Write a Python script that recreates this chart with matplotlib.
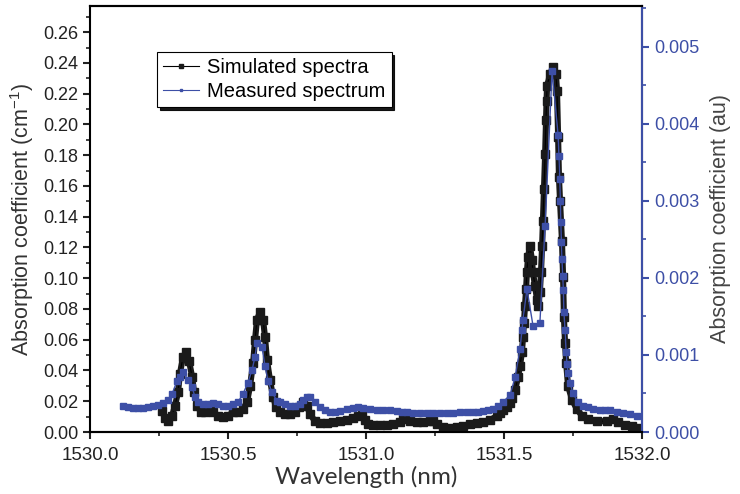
import numpy as np
import matplotlib
matplotlib.use("Agg")
import matplotlib.pyplot as plt
from matplotlib.ticker import MultipleLocator, FormatStrFormatter

plt.rcParams['font.family'] = ['Liberation Sans', 'DejaVu Sans']
plt.rcParams['mathtext.fontset'] = 'custom'
plt.rcParams['mathtext.rm'] = 'Liberation Sans'
plt.rcParams['mathtext.it'] = 'Liberation Sans'

BLUE = '#3d4fa6'

# simulated spectrum (left axis, cm^-1)
sim_wl = [1530.261, 1530.272, 1530.283, 1530.297, 1530.308, 1530.319, 1530.326, 1530.337,
          1530.348, 1530.359, 1530.370, 1530.377, 1530.388, 1530.402, 1530.417, 1530.435,
          1530.446, 1530.464, 1530.482, 1530.500, 1530.518, 1530.536, 1530.554, 1530.569,
          1530.580, 1530.591, 1530.598, 1530.605, 1530.616, 1530.627, 1530.634, 1530.641,
          1530.652, 1530.663, 1530.674, 1530.688, 1530.707, 1530.725, 1530.743, 1530.757,
          1530.772, 1530.786, 1530.797, 1530.815, 1530.833, 1530.859, 1530.880, 1530.906,
          1530.931, 1530.953, 1530.971, 1530.986, 1530.996, 1531.007, 1531.025, 1531.051,
          1531.076, 1531.098, 1531.123, 1531.134, 1531.145, 1531.159, 1531.185, 1531.207,
          1531.232, 1531.243, 1531.257, 1531.279, 1531.304, 1531.330, 1531.351, 1531.377,
          1531.402, 1531.424, 1531.449, 1531.475, 1531.486, 1531.496, 1531.511, 1531.522,
          1531.529, 1531.540, 1531.551, 1531.558, 1531.565, 1531.569, 1531.572, 1531.576,
          1531.580, 1531.583, 1531.587, 1531.594, 1531.601, 1531.605, 1531.612, 1531.620,
          1531.623, 1531.630, 1531.634, 1531.638, 1531.641, 1531.645, 1531.649, 1531.652,
          1531.654, 1531.656, 1531.667, 1531.678, 1531.688, 1531.692, 1531.696, 1531.699,
          1531.703, 1531.710, 1531.714, 1531.717, 1531.721, 1531.725, 1531.732, 1531.746,
          1531.764, 1531.783, 1531.804, 1531.837, 1531.873, 1531.895, 1531.913, 1531.938,
          1531.964, 1531.986, 1532.000]
sim_val = [0.0136, 0.0090, 0.0070, 0.0104, 0.0170, 0.0260, 0.0380, 0.0490,
           0.0520, 0.0460, 0.0360, 0.0260, 0.0170, 0.0130, 0.0130, 0.0136,
           0.0130, 0.0104, 0.0097, 0.0104, 0.0130, 0.0130, 0.0149, 0.0195,
           0.0300, 0.0450, 0.0600, 0.0730, 0.0780, 0.0730, 0.0620, 0.0470,
           0.0340, 0.0230, 0.0160, 0.0130, 0.0117, 0.0117, 0.0130, 0.0160,
           0.0195, 0.0170, 0.0117, 0.0070, 0.0058, 0.0058, 0.0065, 0.0070,
           0.0078, 0.0090, 0.0104, 0.0110, 0.0075, 0.0055, 0.0045, 0.0045,
           0.0045, 0.0052, 0.0065, 0.0084, 0.0097, 0.0070, 0.0065, 0.0065,
           0.0070, 0.0070, 0.0052, 0.0032, 0.0026, 0.0032, 0.0039, 0.0052,
           0.0058, 0.0065, 0.0078, 0.0104, 0.0125, 0.0140, 0.0160, 0.0190,
           0.0220, 0.0270, 0.0360, 0.0430, 0.0520, 0.0620, 0.0710, 0.0820,
           0.0930, 0.1040, 0.1140, 0.1210, 0.1120, 0.1040, 0.0950, 0.0860,
           0.0820, 0.0910, 0.1040, 0.1210, 0.1370, 0.1580, 0.1810, 0.2030,
           0.2150, 0.2250, 0.2330, 0.2370, 0.2330, 0.2220, 0.1920, 0.1660,
           0.1500, 0.1240, 0.1010, 0.0750, 0.0580, 0.0450, 0.0300, 0.0210,
           0.0149, 0.0104, 0.0084, 0.0070, 0.0070, 0.0084, 0.0065, 0.0045,
           0.0039, 0.0026, 0.0020]

# measured spectrum (right axis, au)
meas_wl = [1530.120, 1530.138, 1530.156, 1530.174, 1530.192, 1530.210, 1530.228, 1530.246,
           1530.264, 1530.283, 1530.297, 1530.315, 1530.326, 1530.337, 1530.355, 1530.370,
           1530.380, 1530.391, 1530.409, 1530.428, 1530.446, 1530.464, 1530.482, 1530.500,
           1530.518, 1530.536, 1530.554, 1530.572, 1530.587, 1530.598, 1530.605, 1530.623,
           1530.634, 1530.645, 1530.659, 1530.678, 1530.688, 1530.707, 1530.725, 1530.743,
           1530.761, 1530.772, 1530.786, 1530.797, 1530.815, 1530.833, 1530.851, 1530.870,
           1530.888, 1530.906, 1530.931, 1530.953, 1530.971, 1530.989, 1531.014, 1531.040,
           1531.062, 1531.087, 1531.112, 1531.130, 1531.149, 1531.170, 1531.196, 1531.221,
           1531.243, 1531.268, 1531.293, 1531.315, 1531.341, 1531.366, 1531.388, 1531.406,
           1531.424, 1531.442, 1531.460, 1531.478, 1531.496, 1531.522, 1531.540, 1531.558,
           1531.565, 1531.569, 1531.583, 1531.605, 1531.630, 1531.649, 1531.674, 1531.696,
           1531.699, 1531.702, 1531.704, 1531.706, 1531.708, 1531.710, 1531.713, 1531.715,
           1531.717, 1531.721, 1531.725, 1531.728, 1531.732, 1531.739, 1531.750, 1531.768,
           1531.786, 1531.804, 1531.822, 1531.848, 1531.866, 1531.884, 1531.909, 1531.931,
           1531.957, 1531.982]
meas_val = [0.00034, 0.00032, 0.00031, 0.00031, 0.00031, 0.00032, 0.00034, 0.00035,
            0.00038, 0.00042, 0.00049, 0.00066, 0.00072, 0.00078, 0.00068, 0.00058,
            0.00046, 0.00039, 0.00036, 0.00036, 0.00038, 0.00036, 0.00034, 0.00034,
            0.00036, 0.00039, 0.00049, 0.00064, 0.00080, 0.00098, 0.00116, 0.00110,
            0.00086, 0.00066, 0.00052, 0.00040, 0.00039, 0.00036, 0.00034, 0.00034,
            0.00036, 0.00042, 0.00045, 0.00046, 0.00039, 0.00032, 0.00029, 0.00026,
            0.00026, 0.00027, 0.00030, 0.00031, 0.00032, 0.00031, 0.00030, 0.00029,
            0.00029, 0.00029, 0.00027, 0.00026, 0.00026, 0.00025, 0.00025, 0.00025,
            0.00025, 0.00025, 0.00025, 0.00025, 0.00026, 0.00026, 0.00026, 0.00026,
            0.00027, 0.00029, 0.00030, 0.00034, 0.00039, 0.00048, 0.00071, 0.00108,
            0.00132, 0.00146, 0.00186, 0.00138, 0.00142, 0.00268, 0.00468, 0.00386,
            0.00358, 0.00328, 0.00300, 0.00272, 0.00246, 0.00224, 0.00202, 0.00184,
            0.00156, 0.00132, 0.00104, 0.00088, 0.00076, 0.00064, 0.00050, 0.00039,
            0.00034, 0.00032, 0.00030, 0.00029, 0.00029, 0.00029, 0.00026, 0.00025,
            0.00023, 0.00021]

fig = plt.figure(figsize=(7.4, 4.94), dpi=100)
ax = fig.add_axes([0.1216, 0.1255, 0.746, 0.8624])
ax2 = ax.twinx()

# thick band under the simulated markers, like the dense original sampling
ax.plot(sim_wl, sim_val, color='#1a1a1a', lw=4.4, solid_joinstyle='round',
        solid_capstyle='butt', zorder=2)
l1, = ax.plot(sim_wl, sim_val, color='black', lw=0.8, marker='s', ms=5.2,
              mec='#1a1a1a', mfc='#1a1a1a', label='Simulated spectra', zorder=3)
l2, = ax2.plot(meas_wl, meas_val, color=BLUE, lw=1.0, marker='s', ms=3.8,
               mec=BLUE, mfc=BLUE, label='Measured spectrum')

ax.set_xlim(1530.0, 1532.0)
ax.set_ylim(0, 0.277)
ax2.set_ylim(0, 0.00553)

ax.xaxis.set_major_locator(MultipleLocator(0.5))
ax.xaxis.set_minor_locator(MultipleLocator(0.25))
ax.xaxis.set_major_formatter(FormatStrFormatter('%.1f'))
ax.yaxis.set_major_locator(MultipleLocator(0.02))
ax.yaxis.set_minor_locator(MultipleLocator(0.01))
ax.yaxis.set_major_formatter(FormatStrFormatter('%.2f'))
ax2.yaxis.set_major_locator(MultipleLocator(0.001))
ax2.yaxis.set_minor_locator(MultipleLocator(0.0005))
ax2.yaxis.set_major_formatter(FormatStrFormatter('%.3f'))

for s in ax.spines.values():
    s.set_linewidth(1.5)
for s in ax2.spines.values():
    s.set_linewidth(1.5)
ax2.spines['right'].set_color(BLUE)
ax2.spines['left'].set_visible(False)

ax.tick_params(which='major', direction='out', length=5, width=1.5, labelsize=13, colors='#222222')
ax.tick_params(which='minor', direction='out', length=3, width=1.2, colors='#222222')
ax.tick_params(axis='x', labelsize=13.5, pad=6)
ax2.tick_params(which='major', direction='out', length=5, width=1.5, labelsize=13,
                colors=BLUE)
ax2.tick_params(which='minor', direction='out', length=3, width=1.2, colors=BLUE)

ax.set_xlabel('Wavelength (nm)', family=['Lato', 'DejaVu Sans'], fontsize=17.5, color='#333333',
              labelpad=1)
ax.set_ylabel('Absorption coefficient (cm$^{-1}$)', fontsize=15.5, color='#333333', labelpad=5)
ax2.set_ylabel('Absorption coefficient (au)', fontsize=15.5, color='#444444', labelpad=8)

leg = ax.legend(handles=[l1, l2], loc='upper left', bbox_to_anchor=(0.121, 0.892),
                fontsize=14.5, frameon=True, fancybox=False, edgecolor='black',
                shadow={'color': 'black', 'alpha': 0.9}, borderpad=0.3,
                handlelength=1.8, handletextpad=0.4, labelspacing=0.25,
                markerscale=0.55, borderaxespad=0)
leg.get_frame().set_linewidth(0.8)
for h in leg.get_lines():
    h.set_linewidth(0.8)

fig.savefig('out.png', dpi=100)
